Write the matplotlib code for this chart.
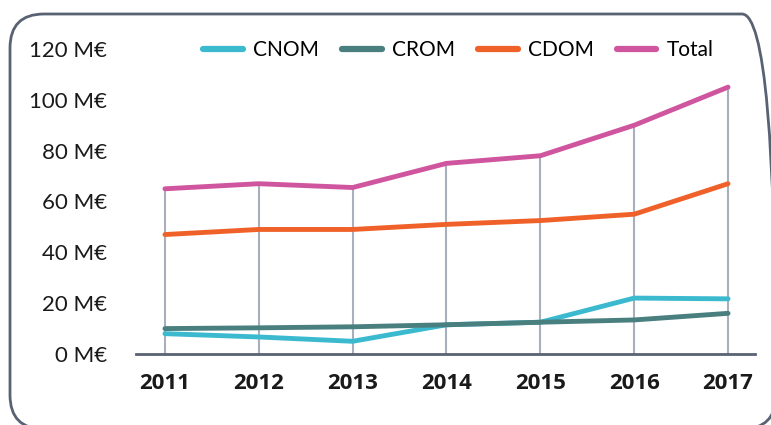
import matplotlib.pyplot as plt
from matplotlib.patches import FancyBboxPatch
from matplotlib.transforms import IdentityTransform

years = [2011, 2012, 2013, 2014, 2015, 2016, 2017]
cnom = [8, 6.7, 5, 11.5, 12.5, 22, 21.7]
crom = [10, 10.3, 10.7, 11.5, 12.5, 13.4, 16]
cdom = [47, 49, 49, 51, 52.5, 55, 67]
total = [65, 67, 65.5, 75, 78, 90, 105]
yticks = [0, 20, 40, 60, 80, 100, 120]

plt.rcParams['font.family'] = ['Lato', 'DejaVu Sans']

fig = plt.figure(figsize=(7.71, 4.25), dpi=100)
ax = fig.add_axes([136 / 771, 1 - 354 / 425, (755 - 136) / 771, (354 - 49) / 425])

# rounded frame around the chart (display pixels, origin bottom left)
frame = FancyBboxPatch((10, -4), 766, 415, boxstyle="round,pad=0,rounding_size=34",
                       transform=IdentityTransform(), fill=False,
                       edgecolor='#596273', linewidth=2.0)
fig.patches.append(frame)

# drop lines from the axis up to the total
ax.vlines(years, 0, total, color='#a9b0bd', linewidth=1.5, zorder=1)

series = [('CNOM', cnom, '#3bb9cf'), ('CROM', crom, '#4a7f7f'),
          ('CDOM', cdom, '#f0612a'), ('Total', total, '#d0559f')]
for name, vals, col in series:
    ax.plot(years, vals, color=col, linewidth=3.5, label=name, zorder=3,
            solid_capstyle='round', solid_joinstyle='round')

ax.set_xlim(2011 - 29 / 94, 2017 + 27 / 94)
ax.set_ylim(0, 120)
ax.set_xticks(years)
ax.set_xticklabels([str(y) for y in years], fontsize=16, fontweight='bold',
                   color='#1a1a1a', family=['Open Sans', 'DejaVu Sans'])
ax.set_yticks(yticks)
ax.set_yticklabels([f'{v} M€' for v in yticks], fontsize=16, color='#1a1a1a')
ax.tick_params(axis='y', length=0, pad=21)
ax.tick_params(axis='x', length=0, pad=14)

for s in ['top', 'right', 'left']:
    ax.spines[s].set_visible(False)
ax.spines['bottom'].set_color('#596273')
ax.spines['bottom'].set_linewidth(2)

leg = ax.legend(loc='upper center', bbox_to_anchor=(0.521, 1.09), ncol=4, frameon=False,
                fontsize=15, handlelength=1.9, handletextpad=0.5, columnspacing=1.1)
for line in leg.get_lines():
    line.set_linewidth(4.5)
    line.set_solid_capstyle('round')

fig.savefig('out.png', dpi=100)
